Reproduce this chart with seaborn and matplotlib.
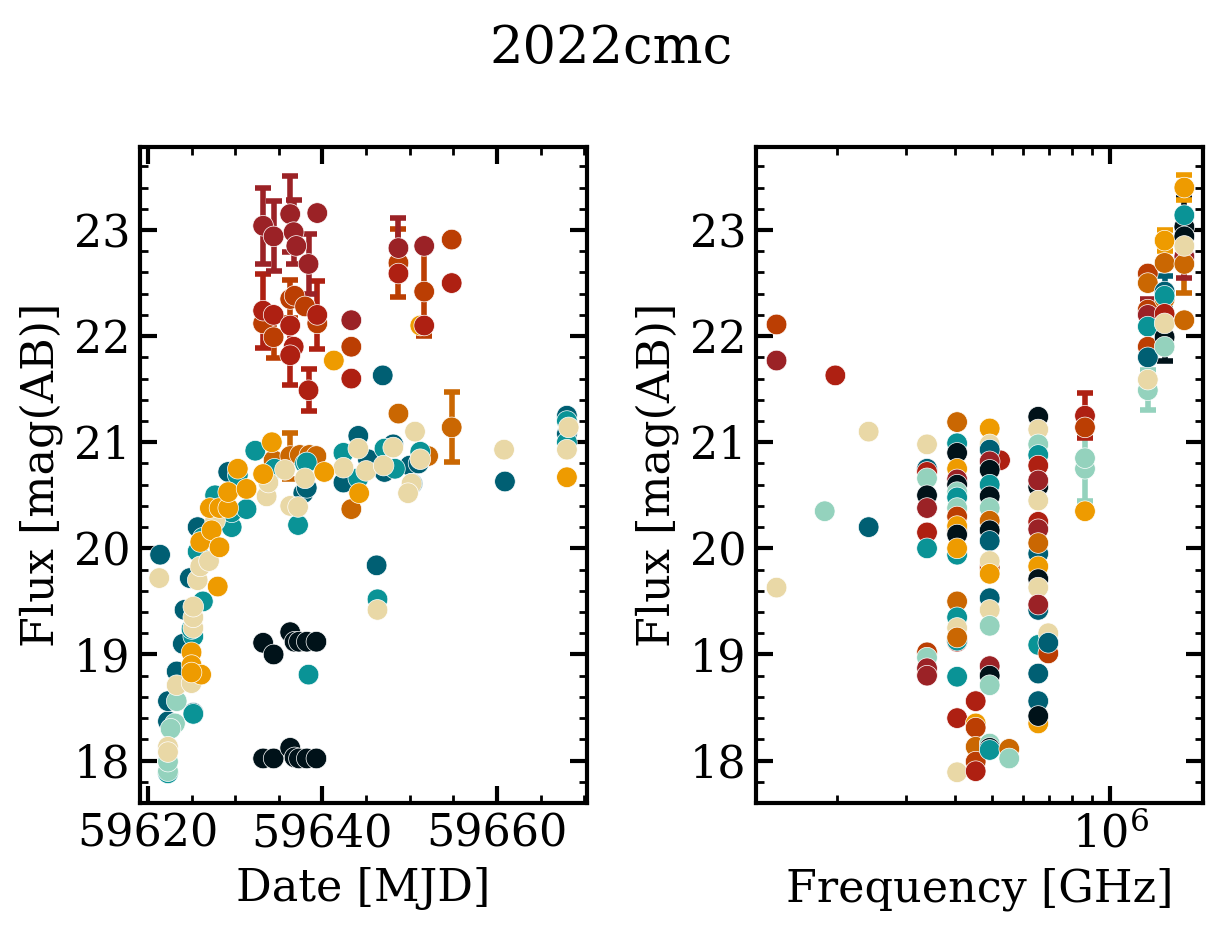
import matplotlib
matplotlib.use("Agg")
import matplotlib.pyplot as plt
import seaborn as sns
import pandas as pd
from matplotlib.ticker import MultipleLocator, LogLocator, NullFormatter

# colour of each group
palette = {
    "c0": "#001219", "c1": "#005f73", "c2": "#0a9396", "c3": "#94d2bd",
    "c4": "#e9d8a6", "c5": "#ee9b00", "c6": "#ca6702", "c7": "#bb3e03",
    "c8": "#ae2012", "c9": "#9b2226",
}

# ---- left panel: (date MJD, mag, err) per colour group ----
lc_c0 = [(59633.2, 19.11, 0), (59634.4, 19.00, 0), (59636.3, 19.21, 0), (59636.8, 19.12, 0),
         (59637.3, 19.12, 0), (59638.2, 19.12, 0), (59639.3, 19.12, 0),
         (59633.2, 18.02, 0), (59634.4, 18.02, 0), (59636.3, 18.12, 0), (59636.8, 18.03, 0),
         (59637.3, 18.02, 0), (59638.2, 18.02, 0), (59639.3, 18.02, 0)]
lc_c1 = [(59621.4, 19.94, 0), (59622.3, 18.37, 0), (59622.3, 18.56, 0), (59623.3, 18.84, 0),
         (59624.0, 19.10, 0), (59624.2, 19.42, 0), (59624.8, 19.72, 0), (59625.7, 20.20, 0),
         (59625.2, 18.45, 0), (59629.2, 20.72, 0), (59637.8, 20.52, 0), (59638.2, 20.57, 0),
         (59642.4, 20.62, 0), (59644.1, 21.06, 0), (59645.2, 20.84, 0), (59647.1, 20.72, 0),
         (59648.1, 20.98, 0), (59650.0, 20.78, 0), (59650.3, 20.61, 0), (59651.0, 20.80, 0),
         (59646.9, 21.63, 0), (59646.2, 19.84, 0), (59660.9, 20.63, 0), (59668.0, 21.25, 0),
         (59668.0, 21.08, 0)]
lc_c2 = [(59622.3, 17.88, 0), (59625.2, 18.44, 0), (59625.2, 19.17, 0), (59625.0, 19.24, 0),
         (59626.3, 19.50, 0), (59625.7, 19.97, 0), (59626.3, 20.10, 0), (59627.7, 20.50, 0),
         (59629.6, 20.20, 0), (59629.6, 20.34, 0), (59631.3, 20.37, 0), (59630.3, 20.69, 0),
         (59632.3, 20.92, 0), (59634.5, 20.75, 0), (59637.2, 20.22, 0), (59638.0, 20.80, 0),
         (59638.2, 20.81, 0), (59638.4, 18.81, 0), (59642.4, 20.90, 0), (59644.1, 20.66, 0),
         (59647.1, 20.94, 0), (59648.3, 20.75, 0), (59651.2, 20.91, 0), (59646.3, 19.52, 0),
         (59668.0, 21.20, 0), (59668.0, 21.00, 0)]
lc_c3 = [(59622.3, 17.90, 0), (59622.3, 17.99, 0), (59623.1, 18.35, 0), (59622.6, 18.30, 0),
         (59623.3, 18.56, 0)]
lc_c4 = [(59621.3, 19.72, 0), (59622.3, 18.13, 0), (59622.3, 18.08, 0), (59623.3, 18.71, 0),
         (59625.0, 18.73, 0), (59625.2, 19.25, 0), (59625.2, 19.35, 0), (59625.2, 19.45, 0),
         (59625.7, 19.70, 0), (59626.0, 19.83, 0), (59627.0, 19.88, 0), (59627.7, 20.26, 0),
         (59633.6, 20.49, 0), (59633.8, 20.62, 0), (59635.7, 20.74, 0), (59636.3, 20.40, 0),
         (59637.2, 20.39, 0), (59638.0, 20.66, 0), (59642.4, 20.76, 0), (59644.1, 20.94, 0),
         (59645.0, 20.73, 0), (59647.0, 20.78, 0), (59648.1, 20.95, 0), (59650.2, 20.61, 0),
         (59649.8, 20.52, 0), (59651.2, 20.84, 0), (59650.6, 21.10, 0), (59660.8, 20.93, 0),
         (59668.2, 21.14, 0), (59668.0, 20.93, 0), (59646.3, 19.42, 0)]
lc_c5 = [(59625.0, 19.02, 0), (59625.0, 18.90, 0), (59626.1, 18.81, 0), (59625.0, 18.83, 0),
         (59628.0, 19.64, 0), (59626.0, 20.06, 0), (59627.3, 20.17, 0), (59628.2, 20.01, 0),
         (59627.1, 20.38, 0), (59628.2, 20.38, 0), (59629.2, 20.38, 0), (59629.2, 20.53, 0),
         (59630.3, 20.75, 0), (59631.3, 20.56, 0), (59633.2, 20.70, 0), (59634.2, 21.00, 0),
         (59640.2, 20.72, 0), (59644.2, 20.52, 0), (59668.0, 20.67, 0), (59641.3, 21.77, 0),
         (59651.2, 22.10, 0)]
lc_c6 = [(59634.4, 20.83, 0), (59636.3, 20.87, 0.22), (59637.4, 20.88, 0), (59638.5, 20.88, 0),
         (59639.3, 20.87, 0), (59643.3, 20.37, 0), (59648.7, 21.27, 0), (59652.1, 20.87, 0),
         (59654.8, 21.14, 0.33)]
lc_c7 = [(59633.2, 22.12, 0), (59634.4, 21.99, 0.20), (59636.3, 22.35, 0.18), (59636.8, 22.38, 0),
         (59638.0, 22.28, 0), (59639.4, 22.12, 0), (59643.3, 21.90, 0), (59648.7, 22.69, 0.32),
         (59651.65, 22.42, 0.42), (59654.8, 22.91, 0)]
lc_c8 = [(59633.2, 22.24, 0.35), (59634.4, 22.20, 0), (59636.3, 22.10, 0), (59636.7, 21.90, 0),
         (59636.3, 21.82, 0.28), (59638.4, 21.49, 0.20), (59639.4, 22.20, 0.32), (59643.3, 21.60, 0),
         (59648.7, 22.59, 0), (59651.65, 22.10, 0), (59654.8, 22.50, 0)]
lc_c9 = [(59633.2, 23.04, 0.36), (59634.4, 22.94, 0.33), (59636.3, 23.15, 0.36), (59636.7, 22.98, 0.30),
         (59637.0, 22.85, 0), (59638.4, 22.68, 0.28), (59639.4, 23.16, 0), (59643.3, 22.15, 0),
         (59648.7, 22.83, 0.28), (59651.65, 22.85, 0)]

# ---- right panel: (freq GHz, mag, group, err) ----
sed_points = [
    (1.40e5, 22.11, "c7", 0), (1.40e5, 21.77, "c9", 0), (1.40e5, 19.63, "c4", 0),
    (1.86e5, 20.35, "c3", 0), (1.98e5, 21.63, "c8", 0),
    (2.41e5, 21.10, "c4", 0), (2.41e5, 20.20, "c1", 0),
    (3.40e5, 20.98, "c4", 0), (3.40e5, 20.75, "c1", 0), (3.40e5, 20.72, "c8", 0),
    (3.40e5, 20.66, "c3", 0), (3.40e5, 20.50, "c0", 0), (3.40e5, 20.38, "c9", 0),
    (3.40e5, 20.15, "c8", 0), (3.40e5, 20.00, "c2", 0), (3.40e5, 18.82, "c5", 0),
    (3.40e5, 19.02, "c7", 0), (3.40e5, 18.97, "c3", 0), (3.40e5, 18.87, "c9", 0),
    (3.40e5, 18.80, "c9", 0),
    (4.06e5, 21.19, "c6", 0), (4.06e5, 20.99, "c2", 0), (4.06e5, 20.90, "c0", 0),
    (4.06e5, 20.75, "c5", 0), (4.06e5, 20.65, "c9", 0), (4.06e5, 20.60, "c0", 0),
    (4.06e5, 20.53, "c3", 0), (4.06e5, 20.48, "c2", 0), (4.06e5, 20.38, "c3", 0),
    (4.06e5, 20.30, "c7", 0), (4.06e5, 20.17, "c6", 0), (4.06e5, 20.21, "c5", 0),
    (4.06e5, 20.13, "c0", 0), (4.06e5, 19.94, "c2", 0), (4.06e5, 20.00, "c5", 0),
    (4.06e5, 19.50, "c6", 0), (4.06e5, 19.35, "c2", 0), (4.06e5, 19.25, "c4", 0),
    (4.06e5, 19.12, "c8", 0), (4.06e5, 19.13, "c2", 0), (4.06e5, 19.16, "c6", 0),
    (4.06e5, 18.79, "c2", 0), (4.06e5, 18.40, "c8", 0), (4.06e5, 17.89, "c4", 0),
    (4.53e5, 18.56, "c8", 0), (4.53e5, 18.35, "c5", 0), (4.53e5, 18.31, "c7", 0),
    (4.53e5, 18.13, "c6", 0), (4.53e5, 17.99, "c7", 0), (4.53e5, 17.90, "c8", 0),
    (5.23e5, 20.83, "c8", 0),
    (4.92e5, 21.13, "c5", 0), (4.92e5, 20.98, "c4", 0), (4.92e5, 20.93, "c1", 0),
    (4.92e5, 20.82, "c9", 0), (4.92e5, 20.74, "c0", 0), (4.92e5, 20.60, "c2", 0),
    (4.92e5, 20.49, "c0", 0), (4.92e5, 20.38, "c3", 0), (4.92e5, 20.26, "c6", 0),
    (4.92e5, 20.17, "c0", 0), (4.92e5, 20.07, "c1", 0), (4.92e5, 19.82, "c7", 0),
    (4.92e5, 19.88, "c4", 0), (4.92e5, 19.76, "c5", 0), (4.92e5, 19.53, "c1", 0),
    (4.92e5, 19.42, "c4", 0), (4.92e5, 19.27, "c3", 0), (4.92e5, 18.89, "c9", 0),
    (4.92e5, 18.80, "c0", 0), (4.92e5, 18.71, "c3", 0), (4.92e5, 18.16, "c3", 0),
    (4.92e5, 18.12, "c0", 0), (4.92e5, 18.10, "c2", 0),
    (5.52e5, 18.11, "c6", 0), (5.52e5, 18.02, "c3", 0),
    (6.55e5, 21.24, "c0", 0), (6.55e5, 21.12, "c4", 0), (6.55e5, 20.98, "c3", 0),
    (6.55e5, 20.88, "c2", 0), (6.55e5, 20.78, "c8", 0), (6.55e5, 20.58, "c0", 0),
    (6.55e5, 20.64, "c9", 0), (6.55e5, 20.45, "c4", 0), (6.55e5, 20.25, "c8", 0),
    (6.55e5, 20.18, "c9", 0), (6.55e5, 19.95, "c1", 0), (6.55e5, 20.05, "c6", 0),
    (6.55e5, 19.83, "c5", 0), (6.55e5, 19.71, "c0", 0), (6.55e5, 19.63, "c4", 0),
    (6.55e5, 19.42, "c1", 0), (6.55e5, 19.47, "c9", 0), (6.55e5, 19.09, "c2", 0),
    (6.55e5, 18.82, "c1", 0), (6.55e5, 18.56, "c1", 0), (6.55e5, 18.35, "c5", 0),
    (6.55e5, 18.42, "c0", 0),
    (6.95e5, 19.20, "c4", 0), (6.95e5, 19.01, "c7", 0), (6.95e5, 19.11, "c1", 0),
    (8.63e5, 21.25, "c8", 0.21), (8.63e5, 21.14, "c7", 0), (8.63e5, 20.75, "c3", 0.30),
    (8.63e5, 20.85, "c3", 0), (8.63e5, 20.35, "c5", 0),
    (1.25e6, 22.59, "c7", 0), (1.25e6, 22.50, "c6", 0), (1.25e6, 22.25, "c7", 0),
    (1.25e6, 22.20, "c9", 0.15), (1.25e6, 22.09, "c2", 0.15), (1.25e6, 21.90, "c7", 0),
    (1.25e6, 21.80, "c1", 0), (1.25e6, 21.49, "c3", 0.19), (1.25e6, 21.59, "c4", 0),
    (1.38e6, 22.90, "c5", 0.10), (1.38e6, 22.69, "c6", 0), (1.38e6, 22.35, "c6", 0),
    (1.38e6, 22.42, "c1", 0.15), (1.38e6, 22.38, "c2", 0), (1.38e6, 22.21, "c8", 0),
    (1.38e6, 21.99, "c0", 0.22), (1.38e6, 21.90, "c3", 0), (1.38e6, 22.12, "c4", 0),
    (1.55e6, 23.40, "c5", 0.12), (1.55e6, 23.03, "c0", 0.27), (1.55e6, 23.14, "c2", 0),
    (1.55e6, 22.94, "c0", 0), (1.55e6, 22.75, "c9", 0.20), (1.55e6, 22.68, "c6", 0.27),
    (1.55e6, 22.85, "c4", 0), (1.55e6, 22.15, "c6", 0),
]

# drawing order of the light-curve groups (later ones sit on top)
lc_groups = [("c6", lc_c6), ("c0", lc_c0), ("c1", lc_c1), ("c2", lc_c2), ("c3", lc_c3),
             ("c4", lc_c4), ("c5", lc_c5), ("c7", lc_c7), ("c9", lc_c9), ("c8", lc_c8)]

rows = []
for g, pts in lc_groups:
    for t, m, e in pts:
        rows.append({"x": t, "mag": m, "err": e, "group": g})
lc = pd.DataFrame(rows)
sed = pd.DataFrame(sed_points, columns=["x", "mag", "group", "err"])

sns.set_style("ticks")
plt.rcParams["font.family"] = ["DejaVu Serif"]
plt.rcParams["mathtext.fontset"] = "dejavuserif"
for k in ["text.color", "axes.labelcolor", "xtick.color", "ytick.color", "axes.edgecolor"]:
    plt.rcParams[k] = "black"

fig, (ax1, ax2) = plt.subplots(1, 2, figsize=(6.115, 4.66), dpi=200)
fig.subplots_adjust(left=0.1145, right=0.9836, bottom=0.1384, top=0.842, wspace=0.378)

for ax, df in [(ax1, lc), (ax2, sed)]:
    eb = df[df["err"] > 0]
    for g, sub in eb.groupby("group"):
        ax.errorbar(sub["x"], sub["mag"], yerr=sub["err"], fmt="none", ecolor=palette[g],
                    elinewidth=2, capsize=3, capthick=2, zorder=2)
    sns.scatterplot(data=df, x="x", y="mag", hue="group", palette=palette, s=55,
                    edgecolor="white", linewidth=0.25, legend=False, ax=ax, zorder=3)

ax1.set_xlim(59619.1, 59670.3)
ax1.xaxis.set_major_locator(MultipleLocator(20))
ax1.xaxis.set_minor_locator(MultipleLocator(5))
ax1.set_xlabel("Date [MJD]", fontsize=16)

ax2.set_xscale("log")
ax2.set_xlim(1.24e5, 1.73e6)
ax2.xaxis.set_minor_locator(LogLocator(base=10, subs=range(2, 10)))
ax2.xaxis.set_minor_formatter(NullFormatter())
ax2.set_xlabel("Frequency [GHz]", fontsize=16)

for ax in (ax1, ax2):
    ax.set_ylim(17.6, 23.78)
    ax.yaxis.set_major_locator(MultipleLocator(1))
    ax.yaxis.set_minor_locator(MultipleLocator(0.2))
    ax.set_ylabel("Flux [mag(AB)]", fontsize=16)
    ax.tick_params(which="both", direction="in", top=True, right=True, labelsize=16)
    ax.tick_params(which="major", length=6, width=1.5)
    ax.tick_params(which="minor", length=3, width=1)
    for sp in ax.spines.values():
        sp.set_linewidth(1.5)

fig.suptitle("2022cmc", fontsize=19, y=0.975)
fig.savefig("out.png", dpi=200)
